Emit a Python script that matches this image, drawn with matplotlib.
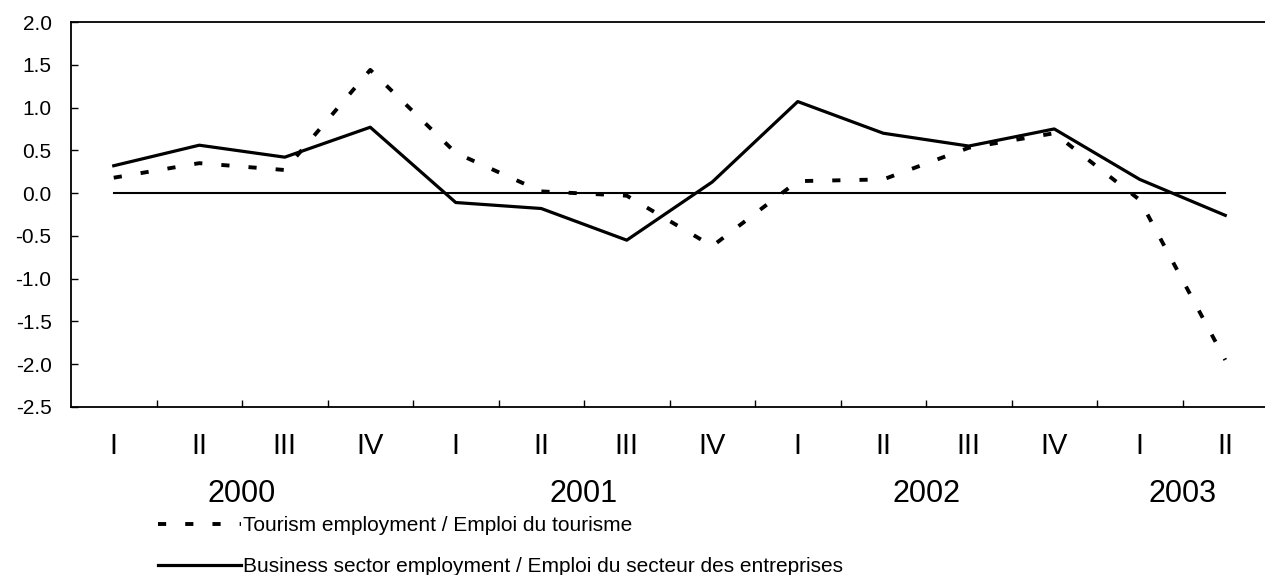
import matplotlib
matplotlib.use("Agg")
import matplotlib.pyplot as plt
import matplotlib.transforms as mtransforms

plt.rcParams['font.family'] = ['Liberation Sans', 'DejaVu Sans']

quarters = ['I', 'II', 'III', 'IV', 'I', 'II', 'III', 'IV', 'I', 'II', 'III', 'IV', 'I', 'II']
years = ['2000', '2001', '2002', '2003']
year_first = [0, 4, 8, 12]
year_last = [3, 7, 11, 13]

tourism = [0.18, 0.35, 0.27, 1.44, 0.47, 0.02, -0.03, -0.62, 0.14, 0.16, 0.53, 0.70, -0.08, -1.95]
business = [0.32, 0.56, 0.42, 0.77, -0.11, -0.18, -0.55, 0.13, 1.07, 0.70, 0.55, 0.75, 0.16, -0.26]

W, H = 1265, 575
fig = plt.figure(figsize=(W / 100, H / 100), dpi=100)
ax = fig.add_axes([71 / W, (H - 407) / H, 1197 / W, (407 - 22) / H])

x = list(range(len(quarters)))
ax.plot([x[0], x[-1]], [0, 0], color='black', lw=1.5)
ax.plot(x, tourism, color='black', lw=2.8, linestyle=(0, (2.1, 4.9)),
        label='Tourism employment / Emploi du tourisme')
ax.plot(x, business, color='black', lw=2.3,
        label='Business sector employment / Emploi du secteur des entreprises')

ax.set_xlim(-0.5, len(quarters) - 0.5)
ax.set_ylim(-2.5, 2.0)
ax.set_yticks([2.0, 1.5, 1.0, 0.5, 0.0, -0.5, -1.0, -1.5, -2.0, -2.5])
ax.set_yticklabels(['%.1f' % v for v in ax.get_yticks()], fontsize=15)
ax.tick_params(axis='y', direction='in', length=5, width=1, pad=14)

ax.set_xticks(x)
ax.set_xticklabels(quarters, fontsize=21)
ax.tick_params(axis='x', which='major', length=0, pad=18)
ax.set_xticks([i + 0.5 for i in x[:-1]], minor=True)
ax.tick_params(axis='x', which='minor', direction='in', length=5, width=1)

for s in ['left', 'bottom', 'top']:
    ax.spines[s].set_linewidth(1.3)
ax.spines['right'].set_visible(False)

trans = mtransforms.blended_transform_factory(ax.transData, fig.transFigure)
for yr, a, b in zip(years, year_first, year_last):
    ax.text((a + b) / 2, 1 - 494 / H, yr, transform=trans, ha='center', va='center',
            fontsize=22)

fig.legend(loc='upper left', bbox_to_anchor=(158 / W, 1 - 516 / H), frameon=False,
           fontsize=15, handlelength=4.0, handletextpad=0.1, labelspacing=1.05,
           borderpad=0, borderaxespad=0)

fig.savefig('out.png', dpi=100)
